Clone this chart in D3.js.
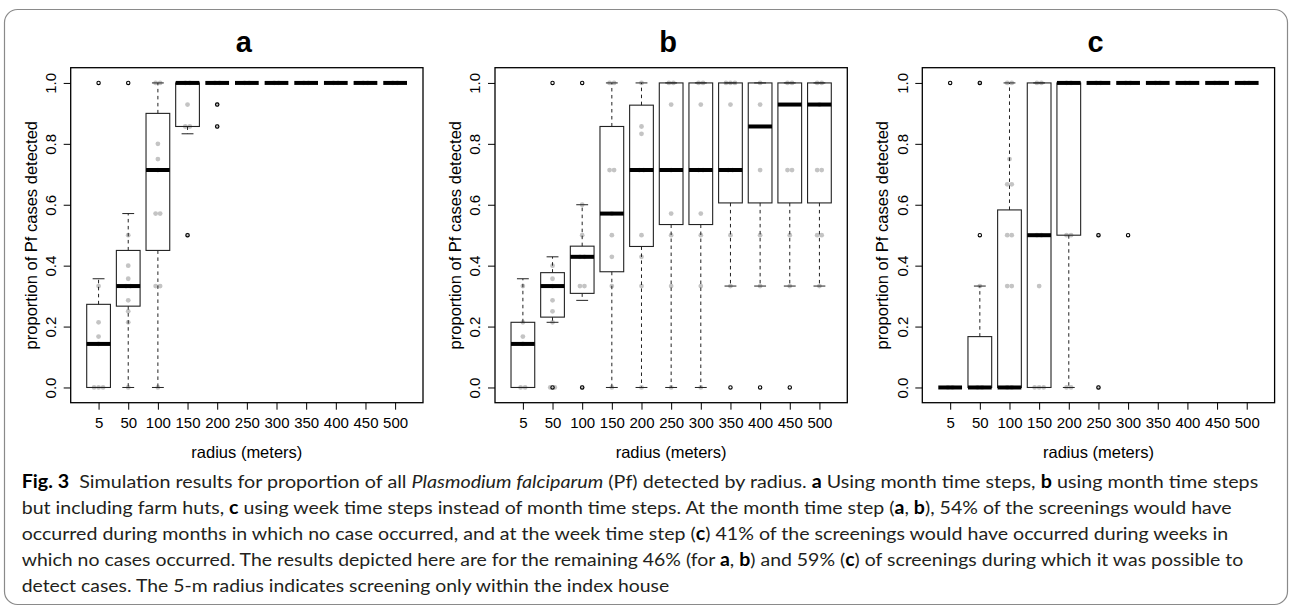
<!DOCTYPE html>
<html><head><meta charset="utf-8">
<script src="https://cdn.jsdelivr.net/npm/d3@7/dist/d3.min.js"></script>
<style>
html,body{margin:0;padding:0;background:#fff;}
svg{display:block;}
text{white-space:pre;}
</style></head>
<body><svg id="chart" width="1290" height="609"></svg>
<script>
// ---------- data ----------
const categories = ["5","50","100","150","200","250","300","350","400","450","500"];
const yTicks = [0, 0.2, 0.4, 0.6, 0.8, 1.0];
const panelTitles = ["a","b","c"];

// panel a: month time steps
const aLo  = [0, 0, 0, 0.833, 1, 1, 1, 1, 1, 1, 1];
const aQ1  = [0, 0.267, 0.45, 0.857, 1, 1, 1, 1, 1, 1, 1];
const aMed = [0.143, 0.333, 0.714, 1, 1, 1, 1, 1, 1, 1, 1];
const aQ3  = [0.273, 0.45, 0.9, 1, 1, 1, 1, 1, 1, 1, 1];
const aHi  = [0.357, 0.571, 1, 1, 1, 1, 1, 1, 1, 1, 1];
const aOut = [[1],[1],[],[0.5],[0.929,0.857],[],[],[],[],[],[]];
const aPts = [[0,0,0,0.143,0.167,0.214,0.333],[0,0.214,0.25,0.286,0.333,0.333,0.357,0.4,0.5],
  [0,0.333,0.333,0.571,0.571,0.714,0.75,0.8,1,1],[0.5,0.857,0.857,0.929,1,1],[0.857,0.929,1,1],
  [1,1],[1,1],[1,1],[1,1],[1,1],[1,1]];

// panel b: month time steps incl. farm huts
const bLo  = [0, 0.214, 0.286, 0, 0, 0, 0, 0.333, 0.333, 0.333, 0.333];
const bQ1  = [0, 0.231, 0.309, 0.38, 0.463, 0.535, 0.535, 0.606, 0.606, 0.606, 0.606];
const bMed = [0.143, 0.333, 0.429, 0.571, 0.714, 0.714, 0.714, 0.714, 0.857, 0.929, 0.929];
const bQ3  = [0.214, 0.377, 0.464, 0.857, 0.927, 1, 1, 1, 1, 1, 1];
const bHi  = [0.357, 0.429, 0.6, 1, 1, 1, 1, 1, 1, 1, 1];
const bOut = [[],[0,1],[0,1],[],[],[],[],[0],[0],[0],[]];
const bPts = [[0,0,0.143,0.167,0.214,0.333],[0,0,0.214,0.25,0.286,0.333,0.357,0.4],
  [0,0.333,0.333,0.429,0.429,0.5,0.6],[0,0.333,0.429,0.5,0.571,0.714,0.714,1,1],
  [0,0.333,0.429,0.5,0.714,0.714,0.833,0.857,1],[0,0.333,0.5,0.571,0.714,0.929,1,1],
  [0,0.333,0.5,0.571,0.714,0.714,0.929,1,1],[0.333,0.5,0.714,0.714,0.929,1,1,1],
  [0.333,0.5,0.714,0.929,1],[0.333,0.5,0.714,0.714,1,1],[0.333,0.5,0.5,0.714,0.714,0.929,1,1]];

// panel c: week time steps
const cLo  = [0, 0, 0, 0, 0, 1, 1, 1, 1, 1, 1];
const cQ1  = [0, 0, 0, 0, 0.5, 1, 1, 1, 1, 1, 1];
const cMed = [0, 0, 0, 0.5, 1, 1, 1, 1, 1, 1, 1];
const cQ3  = [0, 0.167, 0.583, 1, 1, 1, 1, 1, 1, 1, 1];
const cHi  = [0, 0.333, 1, 1, 1, 1, 1, 1, 1, 1, 1];
const cOut = [[1],[0.5,1],[],[],[],[0.5,0],[0.5],[],[],[],[]];
const cPts = [[0,0],[0,0,0.333,1],[0,0,0.333,0.333,0.5,0.5,0.667,0.667,0.75,1,1],
  [0,0,0,0.333,0.5,0.5,1,1],[0,0,0.5,0.5,1,1],[0,0.5,1,1],[1,1],[1,1],[1,1],[1,1],[1,1]];

const xTitle = "radius (meters)";
const yTitle = "proportion of Pf cases detected";

const panels = [
  {lo:aLo,q1:aQ1,med:aMed,q3:aQ3,hi:aHi,out:aOut,pts:aPts},
  {lo:bLo,q1:bQ1,med:bMed,q3:bQ3,hi:bHi,out:bOut,pts:bPts},
  {lo:cLo,q1:cQ1,med:cMed,q3:cQ3,hi:cHi,out:cOut,pts:cPts}
];

// ---------- layout ----------
const svg = d3.select("#chart");
const panelLeft = [70.7, 495, 922.3];
const plotW = 352.3, plotTop = 67.7, plotBottom = 402.7;
const axisFont = "'Liberation Sans', Arial, Helvetica, sans-serif";

svg.append("rect").attr("x",4.5).attr("y",9.5).attr("width",1283).attr("height",595)
  .attr("rx",13).attr("fill","none").attr("stroke","#8a8a8a").attr("stroke-width",1.2);

panels.forEach((p, pi) => {
  const L = panelLeft[pi];
  const g = svg.append("g");
  const x = d3.scaleLinear().domain([0.06, 11.94]).range([L, L + plotW]);
  const y = d3.scaleLinear().domain([-0.05, 1.05]).range([plotBottom, plotTop]);
  const half = 0.4 * (x(2) - x(1));
  const cx = i => x(i + 1);

  // gray data points (deterministic spread for duplicates)
  categories.forEach((c, i) => {
    const vals = p.pts[i];
    const counts = d3.rollup(vals, v => v.length, v => v);
    const seen = new Map();
    vals.forEach(v => {
      const n = counts.get(v), k = seen.get(v) || 0; seen.set(v, k + 1);
      const off = (k - (n - 1) / 2) * 4.5;
      g.append("circle").attr("cx", cx(i) + off).attr("cy", y(v)).attr("r", 2.4).attr("fill", "#c4c4c4");
    });
  });

  // whiskers
  categories.forEach((c, i) => {
    const wg = g.append("g").attr("stroke", "#222").attr("stroke-width", 1);
    wg.append("line").attr("x1", cx(i)).attr("x2", cx(i)).attr("y1", y(p.q3[i])).attr("y2", y(p.hi[i])).attr("stroke-dasharray", "3.5,3.5");
    wg.append("line").attr("x1", cx(i)).attr("x2", cx(i)).attr("y1", y(p.q1[i])).attr("y2", y(p.lo[i])).attr("stroke-dasharray", "3.5,3.5");
    wg.append("line").attr("x1", cx(i) - half / 2).attr("x2", cx(i) + half / 2).attr("y1", y(p.hi[i])).attr("y2", y(p.hi[i]));
    wg.append("line").attr("x1", cx(i) - half / 2).attr("x2", cx(i) + half / 2).attr("y1", y(p.lo[i])).attr("y2", y(p.lo[i]));
    // box
    g.append("rect").attr("x", cx(i) - half).attr("width", 2 * half)
      .attr("y", y(p.q3[i])).attr("height", Math.max(0, y(p.q1[i]) - y(p.q3[i])))
      .attr("fill", "none").attr("stroke", "#222").attr("stroke-width", 1.1);
    // median
    g.append("line").attr("x1", cx(i) - half).attr("x2", cx(i) + half)
      .attr("y1", y(p.med[i])).attr("y2", y(p.med[i])).attr("stroke", "#000").attr("stroke-width", 4);
    // outliers
    p.out[i].forEach(v => {
      g.append("circle").attr("cx", cx(i)).attr("cy", y(v)).attr("r", 1.7)
        .attr("fill", "none").attr("stroke", "#000").attr("stroke-width", 1.1);
    });
  });

  // frame
  g.append("rect").attr("x", L).attr("y", plotTop).attr("width", plotW).attr("height", plotBottom - plotTop)
    .attr("fill", "none").attr("stroke", "#000").attr("stroke-width", 1.3);

  // axes
  const ya = g.append("g").attr("transform", `translate(${L},0)`)
    .call(d3.axisLeft(y).tickValues(yTicks).tickFormat(d3.format(".1f")).tickSize(7));
  ya.select(".domain").remove();
  ya.selectAll("line").attr("stroke", "#000");
  ya.selectAll("text").attr("transform", "rotate(-90)").attr("x", 0).attr("y", -20).attr("dy", "0.35em")
    .attr("text-anchor", "middle").style("font-family", axisFont).style("font-size", "15px").attr("fill", "#000");

  const xa = g.append("g").attr("transform", `translate(0,${plotBottom})`)
    .call(d3.axisBottom(x).tickValues(d3.range(1, 12)).tickFormat(i => categories[i - 1]).tickSize(7).tickPadding(8));
  xa.select(".domain").remove();
  xa.selectAll("line").attr("stroke", "#000");
  xa.selectAll("text").style("font-family", axisFont).style("font-size", "15px").attr("fill", "#000");

  // titles
  g.append("text").attr("x", L + plotW / 2 - 3).attr("y", 51.7).attr("text-anchor", "middle")
    .style("font-family", axisFont).style("font-size", "29px").style("font-weight", "bold").text(panelTitles[pi]);
  g.append("text").attr("x", L + plotW / 2).attr("y", 457.5).attr("text-anchor", "middle")
    .style("font-family", axisFont).style("font-size", "16.5px").text(xTitle);
  g.append("text").attr("transform", `translate(${L - 34},${(plotTop + plotBottom) / 2}) rotate(-90)`)
    .attr("text-anchor", "middle")
    .style("font-family", axisFont).style("font-size", "16.5px").text(yTitle);
});

// ---------- caption ----------
const captionLines = [
  [["b","Fig. 3"],["n","  Simulation results for proportion of all "],["i","Plasmodium falciparum"],["n"," (Pf) detected by radius. "],["b","a"],["n"," Using month time steps, "],["b","b"],["n"," using month time steps"]],
  [["n","but including farm huts, "],["b","c"],["n"," using week time steps instead of month time steps. At the month time step ("],["b","a"],["n",", "],["b","b"],["n","), 54% of the screenings would have"]],
  [["n","occurred during months in which no case occurred, and at the week time step ("],["b","c"],["n",") 41% of the screenings would have occurred during weeks in"]],
  [["n","which no cases occurred. The results depicted here are for the remaining 46% (for "],["b","a"],["n",", "],["b","b"],["n",") and 59% ("],["b","c"],["n",") of screenings during which it was possible to"]],
  [["n","detect cases. The 5-m radius indicates screening only within the index house"]]
];
const captionWidths = [1236.5, 1210, 1206.5, 1221.5, 647.5];
const captionBase = 488.3, captionStep = 26;
captionLines.forEach((line, li) => {
  const t = svg.append("text").attr("x", 21.7).attr("y", captionBase + li * captionStep)
    .style("font-family", "Lato, 'Open Sans', sans-serif").style("font-size", "18px").attr("fill", "#231f20")
    .attr("textLength", captionWidths[li]).attr("lengthAdjust", "spacingAndGlyphs");
  line.forEach(([s, str]) => {
    const ts = t.append("tspan").text(str);
    if (s === "b") ts.style("font-weight", "bold").attr("fill", "#000");
    if (s === "i") ts.style("font-style", "italic");
  });
});
</script>
</body></html>
